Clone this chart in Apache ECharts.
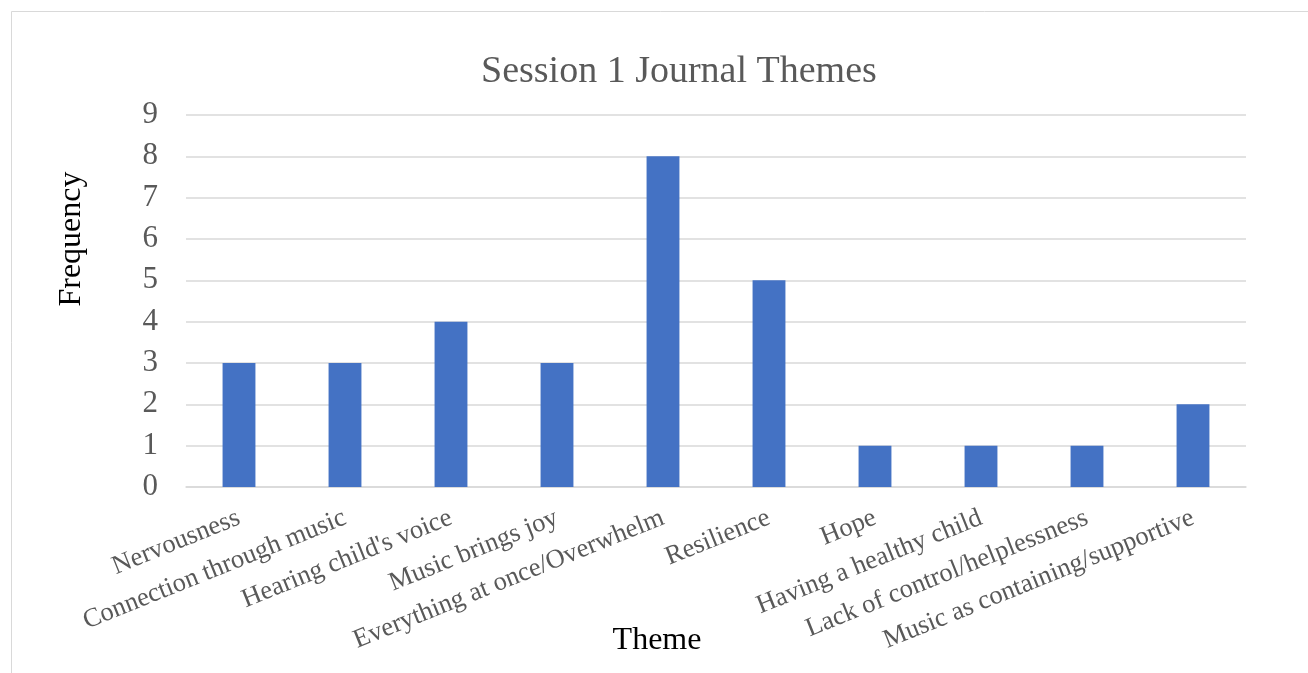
<!DOCTYPE html>
<html>
<head>
<meta charset="utf-8">
<script src="https://cdn.jsdelivr.net/npm/echarts@6/dist/echarts.min.js"></script>
<style>
  html, body { margin: 0; padding: 0; background: #fff; }
  #chart { width: 1308px; height: 673px; }
</style>
</head>
<body>
<div id="chart"></div>
<script>
const themes = [
  'Nervousness',
  'Connection through music',
  "Hearing child's voice",
  'Music brings joy',
  'Everything at once/Overwhelm',
  'Resilience',
  'Hope',
  'Having a healthy child',
  'Lack of control/helplessness',
  'Music as containing/supportive'
];
const frequency = [3, 3, 4, 3, 8, 5, 1, 1, 1, 2];
const yTicks = { min: 0, max: 9, interval: 1 };
const chartTitle = 'Session 1 Journal Themes';
const xTitle = 'Theme';
const yTitle = 'Frequency';

const serif = '"Liberation Serif", "Times New Roman", serif';
const chart = echarts.init(document.getElementById('chart'), null, { renderer: 'canvas' });

chart.setOption({
  animation: false,
  backgroundColor: '#ffffff',
  graphic: [
    {
      // chart frame
      type: 'rect',
      shape: { x: 11.5, y: 11.5, width: 1400, height: 1000 },
      style: { fill: 'none', stroke: '#d9d9d9', lineWidth: 1 },
      silent: true
    },
    {
      // value axis title
      type: 'text',
      x: 72, y: 239,
      rotation: Math.PI / 2,
      style: {
        text: yTitle, font: '32px ' + serif, fill: '#000000',
        align: 'center', verticalAlign: 'middle'
      },
      silent: true
    },
    {
      // category axis title
      type: 'text',
      x: 657, y: 641,
      style: {
        text: xTitle, font: '32px ' + serif, fill: '#000000',
        align: 'center', verticalAlign: 'middle'
      },
      silent: true
    }
  ],
  title: {
    text: chartTitle,
    left: 476,
    top: 48,
    textStyle: { fontFamily: serif, fontSize: 38, fontWeight: 'normal', color: '#595959' }
  },
  grid: { left: 186, right: 62, top: 115, bottom: 186, outerBoundsMode: 'none', containLabel: false },
  xAxis: {
    type: 'category',
    data: themes,
    axisLine: { show: true, lineStyle: { color: '#d9d9d9', width: 1.5 } },
    axisTick: { show: false },
    axisLabel: {
      interval: 0,
      rotate: 22,
      margin: 30,
      fontFamily: serif,
      fontSize: 26.5,
      color: '#595959'
    }
  },
  yAxis: {
    type: 'value',
    min: yTicks.min,
    max: yTicks.max,
    interval: yTicks.interval,
    axisLine: { show: false },
    axisTick: { show: false },
    splitLine: { lineStyle: { color: '#d9d9d9', width: 1.5 } },
    axisLabel: { margin: 28, fontFamily: serif, fontSize: 31, color: '#595959' }
  },
  series: [{
    type: 'bar',
    data: frequency,
    barWidth: '31%',
    itemStyle: { color: '#4472c4' }
  }]
});
</script>
</body>
</html>
